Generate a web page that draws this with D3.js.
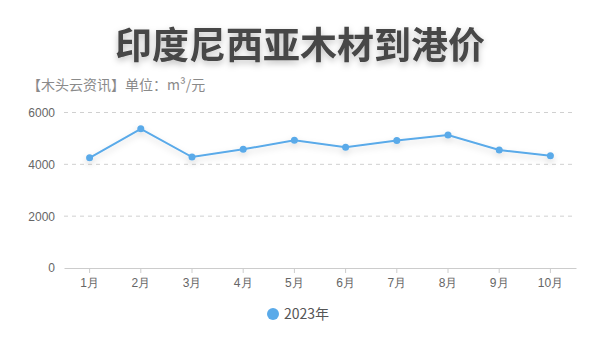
<!DOCTYPE html>
<html>
<head>
<meta charset="utf-8">
<script src="https://cdn.jsdelivr.net/npm/d3@7"></script>
<style>
  body { margin: 0; background: #fff; }
  svg { display: block; font-family: "Noto Sans CJK SC", "Noto Sans", sans-serif; }
</style>
</head>
<body>
<div id="chart"></div>
<script>
const months = ["1月", "2月", "3月", "4月", "5月", "6月", "7月", "8月", "9月", "10月"];
const prices2023 = [4250, 5370, 4280, 4580, 4930, 4660, 4920, 5130, 4550, 4330];
const yTicks = [0, 2000, 4000, 6000];
const seriesName = "2023年";

const width = 600, height = 355;
const lineColor = "#5aaae9";

const svg = d3.select("#chart").append("svg")
    .attr("width", width)
    .attr("height", height);

const defs = svg.append("defs");
defs.append("filter").attr("id", "shadow")
    .attr("x", "-20%").attr("y", "-50%").attr("width", "140%").attr("height", "200%")
    .append("feDropShadow")
    .attr("dx", 0).attr("dy", 3).attr("stdDeviation", 3)
    .attr("flood-color", "#000").attr("flood-opacity", 0.25);
defs.append("filter").attr("id", "lineShadow")
    .attr("x", "-10%").attr("y", "-50%").attr("width", "120%").attr("height", "200%")
    .append("feDropShadow")
    .attr("dx", 0).attr("dy", 3).attr("stdDeviation", 3)
    .attr("flood-color", "#000").attr("flood-opacity", 0.15);

// title
svg.append("text")
    .attr("x", 300)
    .attr("y", 59)
    .attr("text-anchor", "middle")
    .attr("font-size", 37)
    .attr("font-weight", "bold")
    .attr("fill", "#464646")
    .attr("filter", "url(#shadow)")
    .text("印度尼西亚木材到港价");

svg.append("text")
    .attr("x", 27)
    .attr("y", 90)
    .attr("font-size", 14)
    .attr("fill", "#8a8a8a")
    .text("【木头云资讯】单位：m³/元");

const x = d3.scaleBand().domain(months).range([64, 576]);
const y = d3.scaleLinear().domain([0, 6000]).range([268, 112.5]);

// grid
svg.append("g")
    .selectAll("line")
    .data(yTicks.filter(d => d > 0))
    .join("line")
    .attr("x1", 64).attr("x2", 576)
    .attr("y1", d => y(d)).attr("y2", d => y(d))
    .attr("stroke", "#d0d0d0")
    .attr("stroke-dasharray", "4,4");

// y axis
const yAxis = svg.append("g")
    .attr("transform", "translate(64,0)")
    .call(d3.axisLeft(y).tickValues(yTicks).tickSize(0).tickPadding(9).tickFormat(d3.format("d")));
yAxis.select(".domain").remove();
yAxis.selectAll("text").attr("font-size", 12).attr("fill", "#666").attr("font-family", "inherit");

// x axis
const xAxis = svg.append("g")
    .attr("transform", "translate(0," + y(0) + ")")
    .call(d3.axisBottom(x).tickSize(5).tickSizeOuter(0).tickPadding(5));
xAxis.select(".domain").attr("stroke", "#ccc");
xAxis.selectAll(".tick line").attr("stroke", "#ccc");
xAxis.selectAll("text").attr("font-size", 12).attr("fill", "#666").attr("font-family", "inherit");

const cx = d => x(d) + x.bandwidth() / 2;

const line = d3.line()
    .x((d, i) => cx(months[i]))
    .y(d => y(d));

const series = svg.append("g").attr("filter", "url(#lineShadow)");
series.append("path")
    .datum(prices2023)
    .attr("d", line)
    .attr("fill", "none")
    .attr("stroke", lineColor)
    .attr("stroke-width", 2);

series.selectAll("circle")
    .data(prices2023)
    .join("circle")
    .attr("cx", (d, i) => cx(months[i]))
    .attr("cy", d => y(d))
    .attr("r", 3.5)
    .attr("fill", lineColor);

// legend
const legend = svg.append("g").attr("transform", "translate(273,314)");
legend.append("circle").attr("r", 6).attr("fill", lineColor);
legend.append("text")
    .attr("x", 11)
    .attr("dy", "0.35em")
    .attr("font-size", 14)
    .attr("fill", "#555")
    .text(seriesName);
</script>
</body>
</html>
